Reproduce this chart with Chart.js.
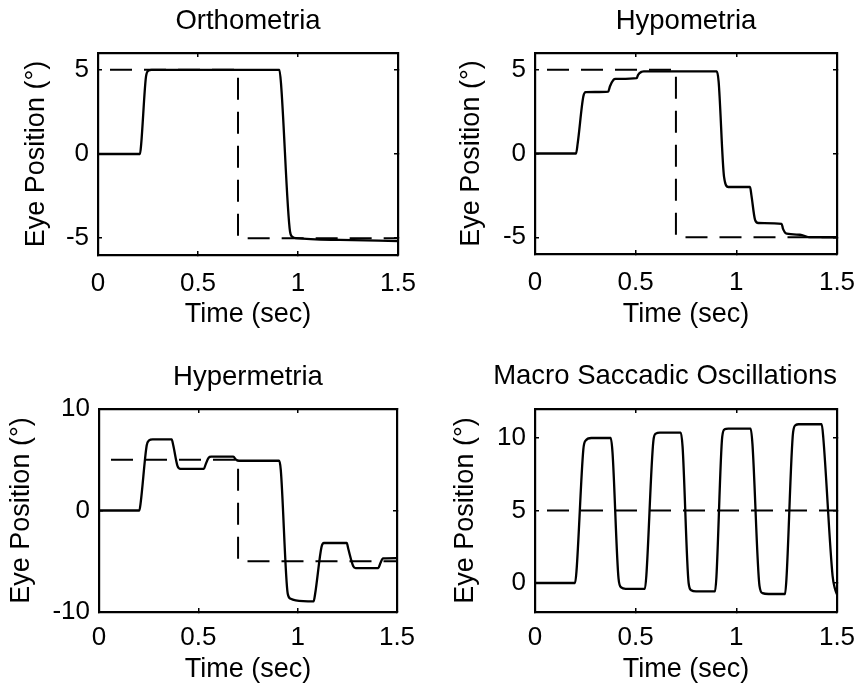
<!DOCTYPE html>
<html>
<head>
<meta charset="utf-8">
<script src="https://cdn.jsdelivr.net/npm/chart.js@4.4.0/dist/chart.umd.min.js"></script>
<style>
  html, body { margin: 0; padding: 0; background: #fff; }
  #page { position: relative; width: 856px; height: 689px; overflow: hidden; background: #fff; }
  canvas { position: absolute; }
</style>
</head>
<body>
<div id="page">
  <canvas id="ortho" width="428" height="344" style="left:0;top:0"></canvas>
  <canvas id="hypo" width="428" height="344" style="left:428px;top:0"></canvas>
  <canvas id="hyper" width="428" height="345" style="left:0;top:344px"></canvas>
  <canvas id="macro" width="428" height="345" style="left:428px;top:344px"></canvas>
</div>
<script>
// shared time axis
const timeTicks = [0, 0.5, 1, 1.5];

// Orthometria
const orthoTime = [0, 0.21, 0.216, 0.24, 0.252, 0.268, 0.907, 0.915, 0.96, 0.972, 0.99, 1.21, 1.5];
const orthoEye  = [0, 0, 0.6, 4.6, 4.95, 5.0, 5.0, 4.2, -4.6, -4.92, -5.0, -5.1, -5.17];
const orthoTargetTime = [0, 0.7, 0.7, 1.5];
const orthoTarget     = [5, 5, -5, -5];
const orthoTicks = [-5, 0, 5];

// Hypometria
const hypoTime = [0, 0.204, 0.212, 0.24, 0.252, 0.364, 0.372, 0.39, 0.4, 0.505, 0.512, 0.53, 0.54,
                  0.903, 0.912, 0.939, 0.96, 1.068, 1.075, 1.093, 1.109, 1.225, 1.232, 1.25, 1.316, 1.366, 1.5];
const hypoEye  = [0, 0, 0.6, 3.4, 3.66, 3.7, 4.0, 4.4, 4.45, 4.5, 4.7, 4.88, 4.9,
                  4.9, 4.3, -1.4, -2.0, -2.0, -2.5, -3.96, -4.15, -4.2, -4.5, -4.79, -4.85, -5.0, -5.0];
const hypoTargetTime = [0, 0.7, 0.7, 1.5];
const hypoTarget     = [5, 5, -5, -5];
const hypoTicks = [-5, 0, 5];

// Hypermetria
const hyperTime = [0, 0.203, 0.21, 0.24, 0.252, 0.27, 0.366, 0.374, 0.395, 0.41, 0.528, 0.536, 0.552, 0.565,
                   0.676, 0.69, 0.705, 0.907, 0.915, 0.95, 0.965, 0.99, 1.08, 1.088, 1.12, 1.132,
                   1.247, 1.255, 1.28, 1.292, 1.406, 1.416, 1.43, 1.5];
const hyperEye  = [0, 0, 0.8, 6.4, 6.9, 7.0, 7.0, 6.4, 4.4, 4.1, 4.1, 4.5, 5.2, 5.3,
                   5.3, 5.0, 4.9, 4.9, 4.0, -8.2, -8.7, -8.85, -8.96, -8.2, -3.6, -3.2,
                   -3.2, -3.8, -5.5, -5.68, -5.68, -5.2, -4.72, -4.69];
const hyperTargetTime = [0, 0.7, 0.7, 1.5];
const hyperTarget     = [5, 5, -5, -5];
const hyperTicks = [-10, 0, 10];

// Macro Saccadic Oscillations
const macroTime = [0, 0.199, 0.206, 0.24, 0.25, 0.28, 0.376, 0.385, 0.415, 0.428, 0.45,
                   0.546, 0.553, 0.588, 0.6, 0.62, 0.724, 0.733, 0.763, 0.776, 0.8,
                   0.894, 0.901, 0.93, 0.942, 0.96, 1.071, 1.08, 1.115, 1.13, 1.16,
                   1.242, 1.249, 1.282, 1.295, 1.31, 1.424, 1.432, 1.478, 1.49, 1.5];
const macroEye  = [0, 0, 0.8, 9.2, 9.8, 10.0, 10.0, 9.0, 0.3, -0.3, -0.4,
                   -0.4, 0.5, 9.8, 10.3, 10.37, 10.37, 9.4, 0, -0.5, -0.58,
                   -0.58, 0.4, 10.1, 10.6, 10.65, 10.65, 9.6, -0.2, -0.7, -0.76,
                   -0.76, 0.3, 10.4, 10.9, 10.95, 10.95, 10, 0.5, -0.4, -0.78];
const macroTargetTime = [0, 1.5];
const macroTarget     = [5, 5];
const macroTicks = [0, 5, 10];

Chart.defaults.font.family = "'Liberation Sans', Arial, Helvetica, sans-serif";
Chart.defaults.color = '#000';

function pts(xs, ys) {
  return xs.map((x, i) => ({ x: x, y: ys[i] }));
}

function fixTicks(values) {
  return function (scale) {
    scale.ticks = values.map(v => ({ value: v }));
  };
}

function makePanel(id, p) {
  const frame = { display: true, color: '#000', width: 2.2 };
  const marks = { display: true, drawOnChartArea: false, drawTicks: true, tickLength: -4, color: '#000', lineWidth: 1.5 };

  new Chart(document.getElementById(id), {
    type: 'line',
    data: {
      datasets: [
        { data: pts(p.time, p.eye), borderColor: '#000', borderWidth: 2.3, pointRadius: 0,
          cubicInterpolationMode: 'monotone', fill: false },
        { data: pts(p.targetTime, p.target), borderColor: '#000', borderWidth: 2, pointRadius: 0,
          borderDash: [22, 12], borderDashOffset: 22, tension: 0, fill: false }
      ]
    },
    options: {
      responsive: false,
      animation: false,
      events: [],
      layout: { padding: { left: 0, top: 0, bottom: 0, right: p.right } },
      plugins: {
        legend: { display: false },
        tooltip: { enabled: false },
        title: {
          display: true, text: p.title, align: p.titleAlign, fullSize: p.fullSize, color: '#000',
          font: { size: 27.5, weight: 'normal', lineHeight: 1 },
          padding: p.titlePad
        }
      },
      scales: {
        x: {
          type: 'linear', position: 'bottom', min: 0, max: 1.5,
          afterBuildTicks: fixTicks(timeTicks),
          afterFit: s => { s.height = p.bottom; s.paddingLeft = 0; s.paddingRight = 0; },
          border: frame, grid: marks,
          ticks: { font: { size: 26, lineHeight: 1 }, padding: p.xTickPad, color: '#000',
                   maxRotation: 0, autoSkip: false, callback: v => String(v) },
          title: { display: true, text: 'Time (sec)', color: '#000',
                   font: { size: 27, lineHeight: 1 }, padding: { top: 0, bottom: p.xTitlePad } }
        },
        y: {
          type: 'linear', position: 'left', min: p.yMin, max: p.yMax,
          afterBuildTicks: fixTicks(p.yTicks),
          afterFit: s => { s.width = p.left; s.paddingTop = 0; s.paddingBottom = 0; },
          border: frame, grid: marks,
          ticks: { font: { size: 26, lineHeight: 1 }, padding: 13, color: '#000',
                   autoSkip: false, callback: v => String(v) },
          title: { display: true, text: 'Eye Position (°)', color: '#000',
                   font: { size: 27, lineHeight: 1 }, padding: { top: p.yTitlePad, bottom: 0 } }
        },
        x2: {
          type: 'linear', position: 'top', min: 0, max: 1.5,
          afterBuildTicks: fixTicks(timeTicks),
          afterFit: s => { s.height = 0; s.paddingLeft = 0; s.paddingRight = 0; },
          border: frame, grid: marks, ticks: { display: false }
        },
        y2: {
          type: 'linear', position: 'right', min: p.yMin, max: p.yMax,
          afterBuildTicks: fixTicks(p.yTicks),
          afterFit: s => { s.width = 0; s.paddingTop = 0; s.paddingBottom = 0; },
          border: frame, grid: marks, ticks: { display: false }
        }
      }
    }
  });
}

makePanel('ortho', {
  title: 'Orthometria', titleAlign: 'center', fullSize: false, titlePad: { top: 7.75, bottom: 17.75 },
  time: orthoTime, eye: orthoEye, targetTime: orthoTargetTime, target: orthoTarget,
  yMin: -6, yMax: 6, yTicks: orthoTicks,
  left: 98, right: 30, bottom: 89, xTickPad: 20, xTitlePad: 16, yTitlePad: 23
});

makePanel('hypo', {
  title: 'Hypometria', titleAlign: 'center', fullSize: false, titlePad: { top: 7.75, bottom: 17.75 },
  time: hypoTime, eye: hypoEye, targetTime: hypoTargetTime, target: hypoTarget,
  yMin: -6, yMax: 6, yTicks: hypoTicks,
  left: 107, right: 19, bottom: 90, xTickPad: 20, xTitlePad: 16, yTitlePad: 30
});

makePanel('hyper', {
  title: 'Hypermetria', titleAlign: 'center', fullSize: false, titlePad: { top: 19.75, bottom: 17.75 },
  time: hyperTime, eye: hyperEye, targetTime: hyperTargetTime, target: hyperTarget,
  yMin: -10, yMax: 10, yTicks: hyperTicks,
  left: 99, right: 31, bottom: 77, xTickPad: 17, xTitlePad: 6, yTitlePad: 8
});

makePanel('macro', {
  title: 'Macro Saccadic Oscillations', titleAlign: 'end', fullSize: true, titlePad: { top: 18.75, bottom: 18.75 },
  time: macroTime, eye: macroEye, targetTime: macroTargetTime, target: macroTarget,
  yMin: -2, yMax: 12, yTicks: macroTicks,
  left: 107, right: 19, bottom: 77, xTickPad: 17, xTitlePad: 6, yTitlePad: 24
});
</script>
</body>
</html>
